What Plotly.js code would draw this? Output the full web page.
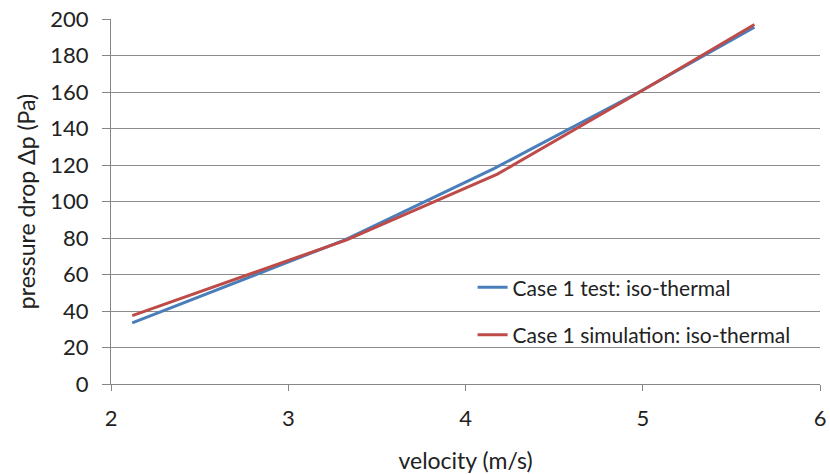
<!DOCTYPE html>
<html><head><meta charset="utf-8">
<script src="https://cdn.plot.ly/plotly-3.0.1.min.js"></script>
<style>html,body{margin:0;padding:0;background:#fff;}#chart{width:830px;height:474px;}</style>
</head><body><div id="chart"></div>
<script>
const testVelocity = [2.12, 3.32, 4.16, 4.98, 5.63];
const testPressure = [33.5, 79, 118, 160, 195.5];
const simVelocity = [2.12, 3.33, 4.18, 5.0, 5.63];
const simPressure = [37.5, 79, 115, 161, 197];
const seriesNames = ["Case 1 test: iso-thermal", "Case 1 simulation: iso-thermal"];
const xTicks = [2, 3, 4, 5, 6];
const yTicks = [0, 20, 40, 60, 80, 100, 120, 140, 160, 180, 200];

const font = "Lato, 'Open Sans', sans-serif";
const data = [
  {x: testVelocity, y: testPressure, name: seriesNames[0], mode: "lines", legendgroup: "a",
   line: {color: "#4a7ebb", width: 3}},
  {x: simVelocity, y: simPressure, name: seriesNames[1], mode: "lines", legendgroup: "b",
   line: {color: "#be4b48", width: 3}}
];
const layout = {
  width: 830, height: 474,
  margin: {l: 111, r: 10, t: 19, b: 90},
  paper_bgcolor: "#fff", plot_bgcolor: "#fff",
  font: {family: font, size: 22, color: "#404040"},
  showlegend: true,
  legend: {x: 0.51, y: 0.32, xanchor: "left", yanchor: "top", bgcolor: "rgba(0,0,0,0)",
           font: {family: font, size: 21, color: "#222"}, tracegroupgap: 17, traceorder: "grouped"},
  xaxis: {range: [2, 6], tickvals: xTicks, ticktext: xTicks.map(String), showgrid: false,
          zeroline: false, showline: true, linecolor: "#868686", linewidth: 1,
          ticks: "outside", ticklen: 6, tickcolor: "#868686", ticklabelstandoff: 9,
          tickfont: {family: font, size: 22, color: "#222"},
          title: {text: "velocity (m/s)", font: {family: font, size: 23, color: "#222"}, standoff: 24}},
  yaxis: {range: [0, 200], tickvals: yTicks, ticktext: yTicks.map(String), showgrid: true,
          gridcolor: "#8c8c8c", gridwidth: 1, zeroline: false, showline: true, linecolor: "#868686",
          ticks: "outside", ticklen: 8, tickcolor: "#868686", ticklabelstandoff: 9,
          tickfont: {family: font, size: 22, color: "#222"},
          title: {text: "pressure drop Δp (Pa)", font: {family: font, size: 23, color: "#222"}, standoff: 8}}
};
Plotly.newPlot("chart", data, layout, {displayModeBar: false, staticPlot: true});
</script></body></html>
